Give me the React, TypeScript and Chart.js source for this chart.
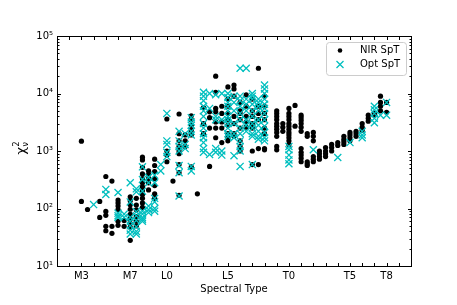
import React, { useEffect, useRef } from 'react';
import { Chart, registerables } from 'chart.js';

Chart.register(...registerables);

// ---- Data ----
const xTickValues = Array.from({ length: 30 }, (_, i) => i + 1);
const majorSpT = [3, 7, 10, 15, 20, 25, 28];
const majorLabels = ['M3', 'M7', 'L0', 'L5', 'T0', 'T5', 'T8'];
const yTickValues = [10, 100, 1000, 10000, 100000];
const yTickLabels = ['10¹', '10²', '10³', '10⁴', '10⁵'];

// NIR SpT: spectral type columns and chi2 values in each
const nirSpT = [3, 3.5, 4.5, 5, 5.5, 6, 6.5, 7, 7.5, 8, 8.5, 9, 10, 10.5, 11, 11.5, 12, 12.5, 13, 13.5, 14, 14.5, 15, 15.5, 16, 16.5, 17, 17.5, 18, 19, 19.5, 20, 20.5, 21, 21.5, 22, 22.5, 23, 23.5, 24, 24.5, 25, 25.5, 26, 26.5, 27, 27.5, 28];
const nirChi2 = [
  [1480, 133],
  [96],
  [133, 70],
  [360, 89, 76, 49, 41],
  [300, 49, 37],
  [140, 125, 110, 96, 60, 51],
  [62, 49],
  [160, 136, 116, 97, 79, 66, 55, 47, 28],
  [150, 115, 95, 72, 60, 50],
  [780, 700, 520, 400, 330, 280, 240, 205, 175, 150, 125, 105],
  [450, 390, 330, 280, 210],
  [720, 560, 440, 330, 250, 180, 150],
  [3600, 1000, 850, 650],
  [300],
  [4400, 2000, 1500, 1200, 1000, 900, 580, 420, 170],
  [1900, 1500, 1200],
  [4100, 3500, 2800, 2300, 1900, 530],
  [180],
  [5700, 3000, 2000],
  [4800, 3800, 2500, 540],
  [20000, 10500, 5500, 4800, 3200, 2500, 1700],
  [6000, 4500, 3200, 2500, 1400],
  [13000, 8000, 6000, 4500, 3500, 2800, 2000, 1700, 1500],
  [14000, 12000, 9000, 4000, 3000, 2000, 1800],
  [7000, 5000, 4500, 3500, 2500, 1500, 1200, 1000],
  [9500, 6000, 4000, 3200, 2600],
  [8000, 5000, 4000, 3000, 2500, 1000, 580],
  [27500, 6000, 4500, 3500, 1100, 580],
  [9000, 6000, 4500, 3500, 2500, 2000, 1100, 1050],
  [5000, 4500, 4000, 3500, 3000, 2700, 2400, 2100, 1800, 1200, 1050],
  [3000, 2600, 2200],
  [5500, 4500, 4000, 3500, 3000, 2700, 2400, 2100, 1900, 1700, 1500, 1300],
  [6200, 2700],
  [4200, 3800, 3400, 3000, 2600, 2200, 1100, 950, 850, 750, 650],
  [2000, 1800, 650, 600, 560],
  [2100, 1800, 1500, 800, 720, 650],
  [1000, 900, 800, 720],
  [1150, 1000, 900, 800],
  [1300, 1150, 1000],
  [1400, 1250],
  [1800, 1600, 1450, 1300],
  [2100, 1900, 1700, 1500],
  [2200, 2000, 1800],
  [3000, 2600, 2300],
  [4200, 3700, 3300],
  [4500, 4200],
  [9000, 7000, 6000, 5000],
  [4700, 7000],
];

// Opt SpT
const optSpT = [4, 5, 6, 6.5, 7, 7.5, 8, 8.5, 9, 9.5, 10, 11, 11.5, 12, 13, 13.5, 14, 14.5, 15, 15.5, 16, 16.5, 17, 17.5, 18, 20, 22, 24, 25, 26, 27, 27.5, 28];
const optChi2 = [
  [117],
  [215, 175],
  [190, 83, 75, 70],
  [80, 70],
  [280, 130, 70, 60, 50, 42, 36],
  [220, 195, 88, 75, 62, 48, 40, 36],
  [530, 320, 200, 90, 80, 70, 65, 60],
  [350, 280, 110, 95, 85],
  [380, 280, 150, 130, 100, 90],
  [580, 450],
  [4500, 1500, 1300, 950, 800],
  [2200, 1500, 1200, 1000, 560, 420, 165],
  [2000, 1300, 1100],
  [3800, 3200, 2800, 2200, 1900, 540, 450],
  [10500, 9000, 7500, 6000, 5000, 4000, 3000, 2500, 2000, 1700, 1400, 1100, 950],
  [10000, 5500, 870],
  [9500, 4000, 3500, 1100, 950],
  [10000, 3500, 1000, 850],
  [10000, 8500, 7000, 6000, 5000, 4000, 3500, 3000, 2500, 2000, 1800],
  [9000, 7000, 5000, 3000, 2000, 1700, 830],
  [27500, 9000, 7500, 6000, 4500, 3500, 2500, 2000, 1500, 1200, 1000, 540],
  [27500, 8000, 6500, 5000, 3500, 2800, 2200],
  [10000, 9000, 8000, 6500, 5000, 4000, 3000, 2500, 2000, 1800, 580],
  [8000, 7000, 6000, 5000, 3500, 2800, 2200, 1800, 1600],
  [14000, 12000, 10000, 8000, 6500, 5500, 4500, 3500, 2700, 2100, 1700, 1500],
  [1200, 1050, 850, 700, 600],
  [1050],
  [770],
  [1400],
  [2200, 1900, 1700],
  [6000, 5200, 4500, 3700, 3100],
  [4200],
  [7000, 4200],
];

const CYAN = '#00BFBF';
const FONT = "'DejaVu Sans', sans-serif";

const toPoints = (xs: number[], ys: number[][]) =>
  xs.flatMap((x, i) => ys[i].map((y) => ({ x, y })));

const decorPlugin = {
  id: 'mplDecor',
  afterDraw(chart: any) {
    const { ctx, chartArea: ca, scales } = chart;
    const xs = scales.x;
    const ys = scales.y;
    ctx.save();
    ctx.strokeStyle = '#000';
    ctx.lineWidth = 1;
    const L = ca.left + 0.5;
    const R = ca.right + 0.5;
    const T = ca.top + 0.5;
    const B = ca.bottom + 0.5;
    ctx.beginPath();
    for (const v of xTickValues) {
      const px = Math.round(xs.getPixelForValue(v)) + 0.5;
      ctx.moveTo(px, B);
      ctx.lineTo(px, B - 3.5);
      ctx.moveTo(px, T);
      ctx.lineTo(px, T + 3.5);
    }
    for (let d = 1; d <= 5; d++) {
      const base = Math.pow(10, d);
      const py = Math.round(ys.getPixelForValue(base)) + 0.5;
      ctx.moveTo(L, py);
      ctx.lineTo(L + 3.5, py);
      ctx.moveTo(R, py);
      ctx.lineTo(R - 3.5, py);
      if (d < 5) {
        for (let m = 2; m <= 9; m++) {
          const pm = Math.round(ys.getPixelForValue(m * base)) + 0.5;
          ctx.moveTo(L, pm);
          ctx.lineTo(L + 2, pm);
          ctx.moveTo(R, pm);
          ctx.lineTo(R - 2, pm);
        }
      }
    }
    ctx.stroke();
    ctx.strokeRect(L, T, ca.right - ca.left, ca.bottom - ca.top);

    // x title
    ctx.fillStyle = '#000';
    ctx.font = `10px ${FONT}`;
    ctx.textAlign = 'center';
    ctx.textBaseline = 'middle';
    ctx.fillText('Spectral Type', (ca.left + ca.right) / 2, 289);

    // y title: chi^2_nu rotated
    ctx.save();
    ctx.translate(22, (ca.top + ca.bottom) / 2 - 3);
    ctx.rotate(-Math.PI / 2);
    ctx.font = `13px ${FONT}`;
    const wChi = ctx.measureText('χ').width;
    ctx.font = `8px ${FONT}`;
    const wSub = Math.max(ctx.measureText('2').width, ctx.measureText('ν').width);
    const total = wChi + wSub + 0.5;
    const x0 = -total / 2;
    ctx.textAlign = 'left';
    ctx.textBaseline = 'middle';
    ctx.font = `13px ${FONT}`;
    ctx.fillText('χ', x0, 0);
    ctx.font = `8px ${FONT}`;
    ctx.fillText('2', x0 + wChi + 0.5, -5);
    ctx.fillText('ν', x0 + wChi + 0.5, 4);
    ctx.restore();

    // legend
    const bx = 326.5, by = 42.5, bw = 80, bh = 33;
    ctx.beginPath();
    if ((ctx as any).roundRect) (ctx as any).roundRect(bx, by, bw, bh, 3);
    else ctx.rect(bx, by, bw, bh);
    ctx.fillStyle = 'rgba(255,255,255,0.8)';
    ctx.fill();
    ctx.strokeStyle = '#cccccc';
    ctx.lineWidth = 1;
    ctx.stroke();

    ctx.fillStyle = '#000';
    ctx.beginPath();
    ctx.arc(340, 50.5, 2.3, 0, Math.PI * 2);
    ctx.fill();
    ctx.strokeStyle = CYAN;
    ctx.lineWidth = 1.3;
    ctx.beginPath();
    ctx.moveTo(336.5, 61);
    ctx.lineTo(343.5, 68);
    ctx.moveTo(343.5, 61);
    ctx.lineTo(336.5, 68);
    ctx.stroke();
    ctx.fillStyle = '#000';
    ctx.font = `10px ${FONT}`;
    ctx.textAlign = 'left';
    ctx.textBaseline = 'middle';
    ctx.fillText('NIR SpT', 360, 50.5);
    ctx.fillText('Opt SpT', 360, 64.5);
    ctx.restore();
  },
};

export default function App() {
  const ref = useRef<HTMLCanvasElement | null>(null);

  useEffect(() => {
    document.body.style.margin = '0';
    const canvas = ref.current;
    if (!canvas) return;
    const chart = new Chart(canvas, {
      type: 'scatter',
      data: {
        datasets: [
          {
            label: 'NIR SpT',
            data: toPoints(nirSpT, nirChi2),
            pointStyle: 'circle',
            pointRadius: 2.6,
            backgroundColor: '#000',
            borderWidth: 0,
            order: 2,
          },
          {
            label: 'Opt SpT',
            data: toPoints(optSpT, optChi2),
            pointStyle: 'crossRot',
            pointRadius: 5,
            borderColor: CYAN,
            backgroundColor: CYAN,
            borderWidth: 1.3,
            order: 1,
          },
        ],
      },
      options: {
        responsive: false,
        animation: false,
        events: [],
        devicePixelRatio: 1,
        layout: { padding: { left: 0, top: 36, right: 46, bottom: 0 } },
        plugins: {
          legend: { display: false },
          tooltip: { enabled: false },
          title: { display: false },
        },
        scales: {
          x: {
            type: 'linear',
            min: 1,
            max: 30,
            grid: { display: false, drawTicks: false },
            border: { display: false },
            afterBuildTicks: (scale: any) => {
              scale.ticks = xTickValues.map((v) => ({ value: v }));
            },
            afterFit: (scale: any) => {
              scale.height = 39;
            },
            ticks: {
              autoSkip: false,
              maxRotation: 0,
              minRotation: 0,
              padding: 4,
              color: '#000',
              font: { family: FONT, size: 10 },
              callback: (v: any) => {
                const i = majorSpT.indexOf(Number(v));
                return i >= 0 ? majorLabels[i] : '';
              },
            },
          },
          y: {
            type: 'logarithmic',
            min: 10,
            max: 100000,
            grid: { display: false, drawTicks: false },
            border: { display: false },
            afterBuildTicks: (scale: any) => {
              scale.ticks = yTickValues.map((v) => ({ value: v }));
            },
            afterFit: (scale: any) => {
              scale.width = 57;
            },
            ticks: {
              autoSkip: false,
              padding: 4,
              color: '#000',
              font: { family: FONT, size: 10 },
              callback: (v: any) => {
                const i = yTickValues.indexOf(Number(v));
                return i >= 0 ? yTickLabels[i] : '';
              },
            },
          },
        },
      },
      plugins: [decorPlugin],
    });
    return () => chart.destroy();
  }, []);

  return (
    <div style={{ position: 'absolute', left: 0, top: 0, width: 457, height: 305 }}>
      <canvas ref={ref} width={457} height={305} style={{ width: 457, height: 305, display: 'block' }} />
    </div>
  );
}
